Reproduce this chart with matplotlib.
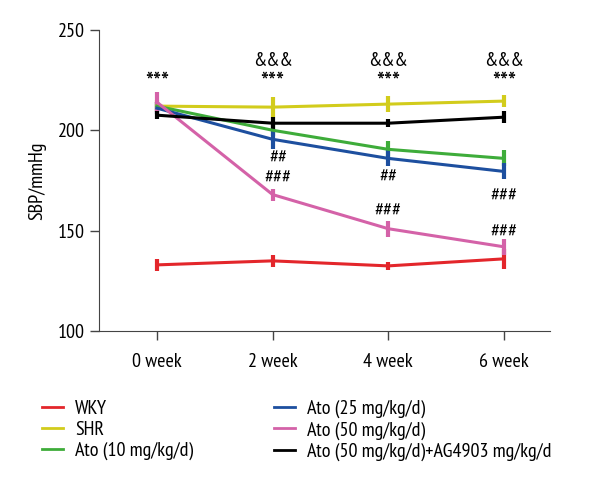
import matplotlib
matplotlib.use("Agg")
import matplotlib.pyplot as plt
from matplotlib.lines import Line2D

plt.rcParams['font.family'] = ['PT Sans Narrow', 'DejaVu Sans']

weeks = ["0 week", "2 week", "4 week", "6 week"]
labels = ["WKY", "SHR", "Ato (10 mg/kg/d)", "Ato (25 mg/kg/d)",
          "Ato (50 mg/kg/d)", "Ato (50 mg/kg/d)+AG4903 mg/kg/d"]
colors = ["#e3262b", "#d2cc1c", "#3eac3a", "#1d4f9f", "#d462a8", "#000000"]

wky = [133, 135, 132.5, 136]
shr = [212, 211.5, 213, 214.5]
ato10 = [212, 200, 190.5, 186]
ato25 = [211, 195.5, 186, 179.5]
ato50 = [214, 168, 151, 142]
ato50_ag = [207.5, 203.5, 203.5, 206.5]
series = [wky, shr, ato10, ato25, ato50, ato50_ag]

wky_err = [3, 3, 2, 5]
shr_err = [3, 5, 4, 3]
ato10_err = [2, 3, 4, 4]
ato25_err = [3, 5, 4, 4]
ato50_err = [5, 3, 4, 4]
ato50_ag_err = [2, 3, 2, 3]
errors = [wky_err, shr_err, ato10_err, ato25_err, ato50_err, ato50_ag_err]

fig = plt.figure(figsize=(6, 4.8), dpi=100)
ax = fig.add_axes([0.165, 0.31, 0.752, 0.628])

x = list(range(len(weeks)))
for vals, errs, c in zip(series, errors, colors):
    ax.errorbar(x, vals, yerr=errs, color=c, lw=2.2, elinewidth=3, capsize=0)

# significance marks
fs = 14.5
ax.text(0, 217.5, "***", ha="center", va="bottom", fontsize=fs + 5)
for i in [1, 2, 3]:
    ax.text(i, 217.5, "***", ha="center", va="bottom", fontsize=fs + 5)
    ax.text(i, 230, "&&&", ha="center", va="bottom", fontsize=fs)
ax.text(1.05, 181.5, "##", ha="center", va="bottom", fontsize=fs)
ax.text(1.05, 171.5, "###", ha="center", va="bottom", fontsize=fs)
ax.text(2, 172, "##", ha="center", va="bottom", fontsize=fs)
ax.text(2, 155, "###", ha="center", va="bottom", fontsize=fs)
ax.text(3, 162.5, "###", ha="center", va="bottom", fontsize=fs)
ax.text(3, 144.5, "###", ha="center", va="bottom", fontsize=fs)

ax.set_xlim(-0.5, 3.4)
ax.set_ylim(100, 250)
ax.set_yticks([100, 150, 200, 250])
ax.set_xticks(x)
ax.set_xticklabels(weeks)
ax.tick_params(labelsize=fs, length=6.5, width=1, color="#444444")
ax.tick_params(axis="x", pad=9)
ax.tick_params(axis="y", pad=4)
ax.set_ylabel("SBP/mmHg", fontsize=fs, labelpad=8)
for s in ["top", "right"]:
    ax.spines[s].set_visible(False)
for s in ["left", "bottom"]:
    ax.spines[s].set_color("#444444")

handles = [Line2D([0], [0], color=c, lw=2) for c in colors]
fig.legend(handles, labels, loc="upper left", bbox_to_anchor=(0.04, 0.205),
           ncol=2, frameon=False, fontsize=fs, handlelength=1.05,
           columnspacing=4.0, labelspacing=0.15, handletextpad=0.6)

fig.savefig("out.png", dpi=100)
